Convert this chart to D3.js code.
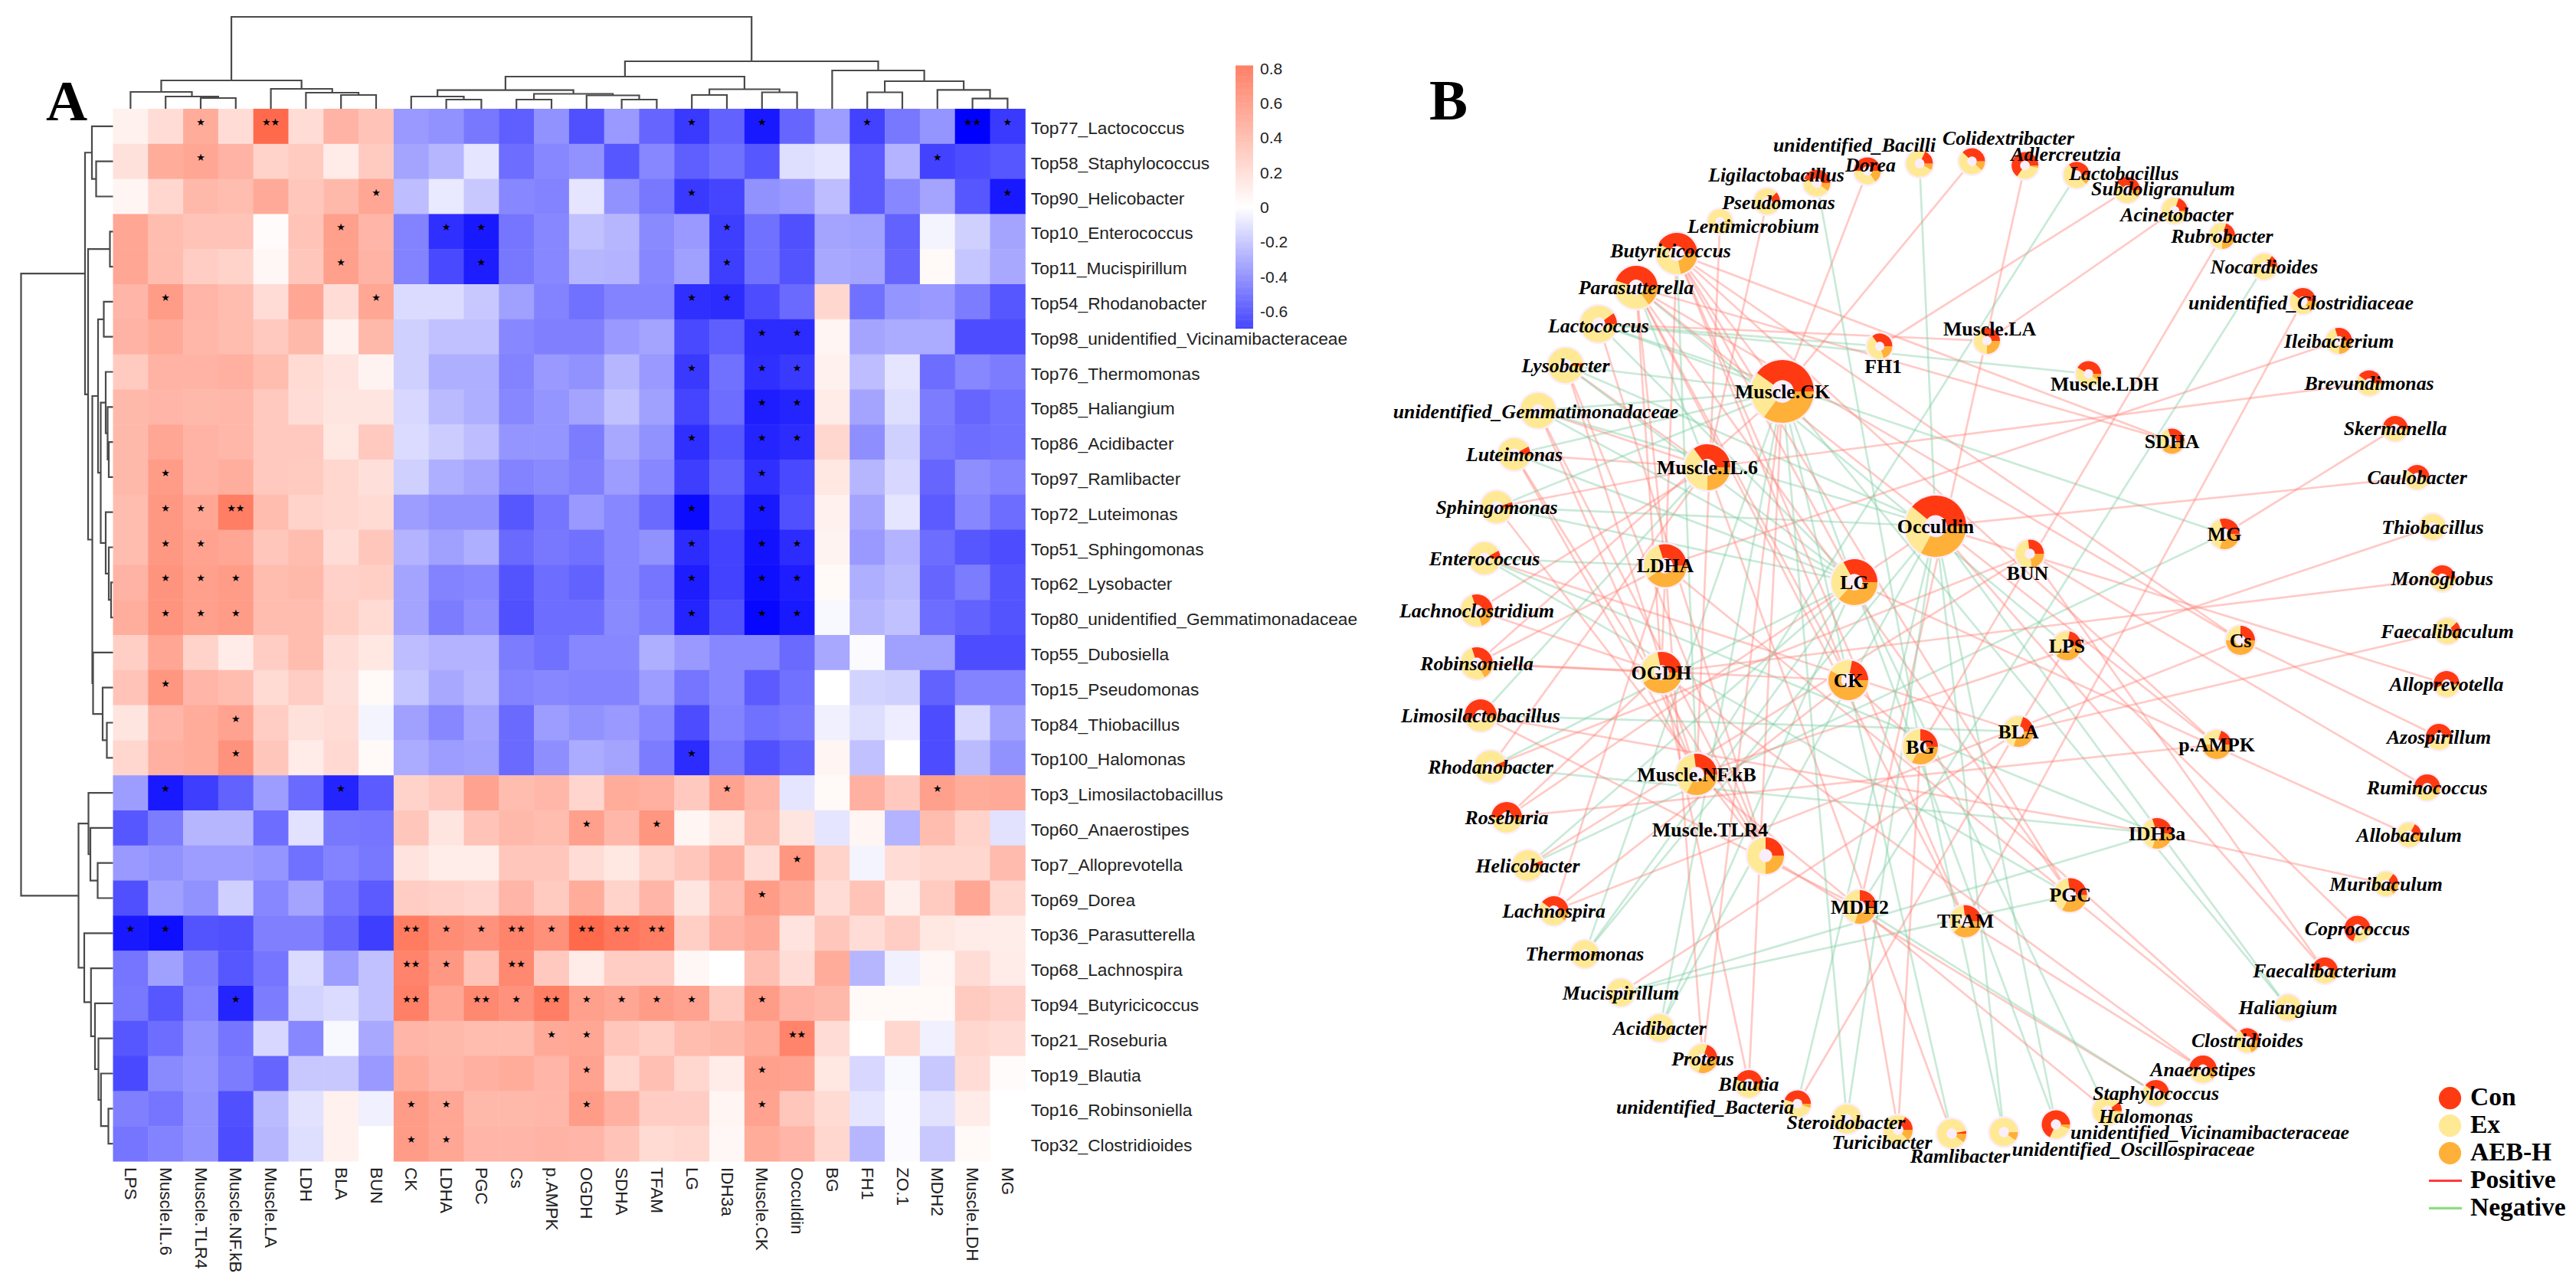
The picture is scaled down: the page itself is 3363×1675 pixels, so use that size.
<!DOCTYPE html>
<html><head><meta charset="utf-8">
<script src="https://cdn.jsdelivr.net/npm/d3@7"></script>
<style>html,body{margin:0;background:#fff}svg{display:block}</style>
</head><body><svg id="c" width="3363" height="1675" xmlns="http://www.w3.org/2000/svg"></svg>
<script>
// ---------- Panel A data ----------
const colLabels=["LPS","Muscle.IL.6","Muscle.TLR4","Muscle.NF.kB","Muscle.LA","LDH","BLA","BUN","CK","LDHA","PGC","Cs","p.AMPK","OGDH","SDHA","TFAM","LG","IDH3a","Muscle.CK","Occuldin","BG","FH1","ZO.1","MDH2","Muscle.LDH","MG"];
const rowLabels=["Top77_Lactococcus","Top58_Staphylococcus","Top90_Helicobacter","Top10_Enterococcus","Top11_Mucispirillum","Top54_Rhodanobacter","Top98_unidentified_Vicinamibacteraceae","Top76_Thermomonas","Top85_Haliangium","Top86_Acidibacter","Top97_Ramlibacter","Top72_Luteimonas","Top51_Sphingomonas","Top62_Lysobacter","Top80_unidentified_Gemmatimonadaceae","Top55_Dubosiella","Top15_Pseudomonas","Top84_Thiobacillus","Top100_Halomonas","Top3_Limosilactobacillus","Top60_Anaerostipes","Top7_Alloprevotella","Top69_Dorea","Top36_Parasutterella","Top68_Lachnospira","Top94_Butyricicoccus","Top21_Roseburia","Top19_Blautia","Top16_Robinsoniella","Top32_Clostridioides"];
const heatValues=[
[.07,.17,.42,.17,.75,.17,.38,.3,-.28,-.3,-.37,-.44,-.3,-.48,-.28,-.42,-.54,-.43,-.63,-.42,-.27,-.52,-.37,-.29,-.7,-.54],
[.15,.42,.45,.38,.22,.26,.1,.26,-.25,-.2,-.07,-.4,-.33,-.3,-.46,-.33,-.44,-.39,-.46,-.09,-.07,-.45,-.21,-.52,-.49,-.46],
[.05,.2,.35,.33,.43,.28,.35,.45,-.18,-.06,-.15,-.33,-.34,-.07,-.3,-.37,-.54,-.51,-.3,-.28,-.18,-.45,-.33,-.25,-.46,-.63],
[.45,.33,.3,.3,.02,.3,.48,.37,-.34,-.57,-.63,-.38,-.33,-.17,-.2,-.32,-.28,-.53,-.39,-.48,-.25,-.26,-.43,-.03,-.13,-.25],
[.45,.33,.25,.22,.04,.28,.48,.38,-.34,-.5,-.62,-.37,-.33,-.2,-.21,-.33,-.26,-.53,-.39,-.47,-.24,-.25,-.42,.03,-.16,-.24],
[.37,.5,.37,.33,.17,.45,.17,.45,-.1,-.1,-.15,-.26,-.34,-.39,-.34,-.34,-.57,-.58,-.49,-.41,.2,-.39,-.29,-.28,-.36,-.46],
[.38,.43,.36,.33,.27,.35,.07,.35,-.13,-.17,-.17,-.33,-.35,-.35,-.28,-.25,-.5,-.44,-.58,-.58,.05,-.25,-.23,-.23,-.49,-.49],
[.26,.38,.38,.4,.33,.18,.14,.06,-.13,-.22,-.22,-.34,-.28,-.3,-.2,-.28,-.54,-.39,-.57,-.54,.07,-.18,-.07,-.4,-.33,-.36],
[.35,.37,.35,.36,.27,.17,.13,.13,-.11,-.19,-.22,-.33,-.29,-.25,-.17,-.26,-.51,-.4,-.62,-.6,.1,-.25,-.09,-.36,-.42,-.39],
[.35,.45,.38,.36,.27,.27,.12,.27,-.1,-.14,-.18,-.29,-.29,-.36,-.24,-.3,-.57,-.46,-.6,-.58,.2,-.31,-.13,-.37,-.4,-.39],
[.35,.5,.38,.41,.27,.26,.2,.16,-.13,-.22,-.25,-.34,-.32,-.35,-.27,-.33,-.53,-.43,-.57,-.5,.12,-.2,-.11,-.42,-.31,-.34],
[.33,.52,.45,.65,.33,.22,.2,.18,-.27,-.3,-.3,-.46,-.38,-.28,-.33,-.41,-.67,-.48,-.63,-.48,.07,-.25,-.07,-.45,-.33,-.4],
[.33,.52,.47,.45,.28,.33,.17,.28,-.21,-.26,-.22,-.41,-.37,-.39,-.33,-.3,-.58,-.52,-.65,-.58,.06,-.28,-.21,-.4,-.46,-.49],
[.38,.54,.48,.5,.33,.35,.23,.24,-.25,-.34,-.33,-.47,-.4,-.43,-.33,-.38,-.62,-.52,-.66,-.62,.03,-.22,-.19,-.42,-.36,-.47],
[.41,.54,.48,.5,.33,.33,.24,.18,-.25,-.36,-.31,-.48,-.4,-.4,-.32,-.36,-.6,-.48,-.68,-.63,-.02,-.2,-.17,-.4,-.43,-.47],
[.24,.45,.22,.1,.25,.33,.17,.12,-.18,-.21,-.21,-.36,-.39,-.33,-.33,-.22,-.28,-.33,-.33,-.41,-.24,-.01,-.26,-.26,-.49,-.49],
[.3,.53,.37,.33,.18,.25,.16,.03,-.16,-.24,-.2,-.34,-.33,-.34,-.34,-.27,-.38,-.33,-.45,-.39,0,-.12,-.13,-.43,-.34,-.34],
[.13,.37,.42,.47,.25,.15,.17,-.03,-.26,-.33,-.25,-.41,-.27,-.3,-.28,-.33,-.49,-.34,-.39,-.37,-.04,-.09,-.05,-.49,-.11,-.26],
[.2,.4,.42,.55,.28,.1,.19,.03,-.23,-.27,-.26,-.41,-.31,-.23,-.25,-.36,-.58,-.37,-.48,-.43,.05,-.17,0,-.49,-.19,-.3],
[-.27,-.63,-.53,-.43,-.27,-.41,-.6,-.45,.22,.27,.47,.33,.36,.21,.42,.4,.27,.47,.36,-.07,.03,.4,.27,.48,.42,.43],
[-.46,-.36,-.2,-.2,-.4,-.08,-.37,-.38,.28,.13,.3,.35,.33,.48,.36,.53,.05,.12,.33,.13,-.07,.05,-.21,.33,.22,-.08],
[-.28,-.3,-.27,-.27,-.29,-.39,-.34,-.37,.14,.09,.09,.28,.28,.17,.12,.22,.28,.4,.17,.53,.22,-.03,.17,.2,.2,.34],
[-.48,-.26,-.3,-.13,-.33,-.25,-.38,-.45,.25,.23,.21,.37,.26,.42,.22,.37,.13,.32,.5,.42,.17,.3,.08,.26,.45,.2],
[-.63,-.66,-.47,-.48,-.35,-.35,-.42,-.53,.66,.58,.55,.62,.56,.75,.68,.65,.24,.38,.43,.14,.28,.17,.25,.12,.1,.09],
[-.38,-.26,-.36,-.46,-.38,-.1,-.27,-.17,.62,.52,.3,.6,.27,.1,.25,.25,.04,0,.32,.17,.42,-.2,-.04,.04,.17,.1],
[-.37,-.46,-.34,-.6,-.36,-.12,-.1,-.17,.64,.45,.6,.55,.65,.48,.45,.5,.47,.26,.5,.38,.35,.03,.03,.03,.26,.23],
[-.46,-.4,-.3,-.38,-.11,-.33,-.02,-.24,.37,.35,.33,.33,.43,.45,.28,.24,.33,.35,.42,.62,.17,0,.2,-.04,.2,.17],
[-.5,-.32,-.29,-.36,-.42,-.15,-.15,-.28,.42,.36,.4,.42,.37,.47,.2,.32,.2,.1,.48,.47,.12,-.11,-.02,-.15,.17,.02],
[-.35,-.38,-.3,-.48,-.19,-.08,.07,-.04,.5,.45,.35,.35,.36,.5,.4,.25,.25,.05,.47,.28,.18,-.07,-.01,-.08,.1,0],
[-.38,-.34,-.3,-.49,-.2,-.09,.07,0,.5,.45,.37,.37,.38,.37,.3,.18,.2,.04,.42,.37,.2,-.2,-.01,-.15,.03,0]];
// number of significance stars per cell, one string per row
const starRows=["0010200000 0000001010 010021","0010000000 0000000000 000100","0000000100 0000001000 000001","0000001001 1000000100 000000","0000001000 1000000100 000000","0100000100 0000001100 000000","0000000000 0000000011 000000","0000000000 0000001011 000000","0000000000 0000000011 000000","0000000000 0000001011 000000","0100000000 0000000010 000000","0112000000 0000001010 000000","0110000000 0000001011 000000","0111000000 0000001011 000000","0111000000 0000001011 000000","0000000000 0000000000 000000","0100000000 0000000000 000000","0001000000 0000000000 000000","0001000000 0000001000 000000","0100001000 0000000100 000100","0000000000 0001010000 000000","0000000000 0000000001 000000","0000000000 0000000010 000000","1100000021 1212220000 000000","0000000021 0200000000 000000","0001000020 2121111010 000000","0000000000 0011000002 000000","0000000000 0001000010 000000","0000000011 0001000010 000000","0000000011 0000000000 000000"].map(s=>s.replace(/ /g,""));
const legendTicks=[0.8,0.6,0.4,0.2,0,-0.2,-0.4,-0.6];
// dendrograms: [mergeHeight, childA, childB]; a number child is a 0-based leaf index
const colTree=[120,
 [37,[22,0,[16,1,[14,2,3]]],[26,4,[21,5,[18,6,7]]]],
 [62,[42,[24.3,[16,8,[12,9,10]],[19.5,[12,11,12],[17.5,13,[12,14,15]]]],[25.5,[18,16,17],[21.5,18,19]]],
     [50,20,[36,[21.5,21,22],[24.6,23,[13.4,24,25]]]]]];
const rowTree=[120,
 [36.5,[27.5,0,[22,1,2]],
  [32.5,[4,3,4],
   [27,[19.5,[12,5,6],
     [16,[9.5,7,[7,8,[5.5,9,10]]],[9.5,11,[5.5,12,[2.5,13,14]]]]],
    [26,15,[13.5,16,[8,17,18]]]]]],
 [45,[32,19,[29.5,20,[20,21,22]]],
  [37.5,23,[28.7,24,[23.5,25,[19,26,[15.7,27,[6,28,29]]]]]]]];

// ---------- Panel B data ----------
const nodeTable=[ // name, Con, Ex, AEB-H share
["unidentified_Bacilli",.18,.74,.08],["Dorea",.5,.35,.15],["Ligilactobacillus",.45,.45,.1],["Pseudomonas",.12,.86,.02],["Lentimicrobium",0,.98,.02],["Butyricicoccus",.42,.36,.22],["Parasutterella",.45,.4,.15],["Lactococcus",.1,.87,.03],["Lysobacter",.02,.96,.02],["unidentified_Gemmatimonadaceae",0,.99,.01],["Luteimonas",.08,.9,.02],["Sphingomonas",.05,.92,.03],["Enterococcus",.08,.92,0],["Lachnoclostridium",.3,.5,.2],["Robinsoniella",.3,.53,.17],["Limosilactobacillus",.55,.4,.05],["Rhodanobacter",.06,.93,.01],["Roseburia",.5,.45,.05],["Helicobacter",.05,.93,.02],["Lachnospira",.4,.48,.12],["Thermomonas",0,.97,.03],["Mucispirillum",0,.99,.01],["Acidibacter",0,.97,.03],["Proteus",.2,.5,.3],["Blautia",.45,.45,.1],["unidentified_Bacteria",.45,.5,.05],["Steroidobacter",0,1,0],["Turicibacter",.17,.7,.13],["Ramlibacter",.03,.87,.1],["unidentified_Oscillospiraceae",0,.9,.1],["unidentified_Vicinamibacteraceae",.68,.27,.05],["Halomonas",.1,.88,.02],["Staphylococcus",.4,.57,.03],["Anaerostipes",.5,.37,.13],["Clostridioides",.35,.45,.2],["Haliangium",0,1,0],["Faecalibacterium",.5,.38,.12],["Coprococcus",.7,.27,.03],["Muribaculum",.15,.7,.15],["Allobaculum",.17,.73,.1],["Ruminococcus",.5,.4,.1],["Azospirillum",.6,.39,.01],["Alloprevotella",.55,.43,.02],["Faecalibaculum",.12,.75,.13],["Monoglobus",.42,.55,.03],["Thiobacillus",0,1,0],["Caulobacter",.4,.58,.02],["Skermanella",.45,.53,.02],["Brevundimonas",.4,.58,.02],["Ileibacterium",.3,.45,.25],["unidentified_Clostridiaceae",.4,.45,.15],["Nocardioides",.15,.84,.01],["Rubrobacter",.2,.55,.25],["Acinetobacter",.2,.77,.03],["Subdoligranulum",.4,.5,.1],["Lactobacillus",.35,.53,.12],["Adlercreutzia",.65,.32,.03],["Colidextribacter",.38,.5,.12],
["FH1",.35,.45,.2],["Muscle.CK",.4,.25,.35],["Muscle.LA",.3,.45,.25],["Muscle.LDH",.42,.48,.1],["SDHA",.3,.32,.38],["Muscle.IL.6",.35,.4,.25],["LDHA",.3,.3,.4],["LG",.33,.3,.37],["OGDH",.28,.3,.42],["CK",.22,.2,.58],["BG",.25,.42,.33],["Muscle.NF.kB",.27,.4,.33],["Muscle.TLR4",.25,.5,.25],["MDH2",.25,.45,.3],["Occuldin",.39,.28,.33],["BUN",.27,.5,.23],["MG",.3,.4,.3],["LPS",.22,.4,.38],["Cs",.25,.25,.5],["BLA",.2,.5,.3],["p.AMPK",.2,.3,.5],["IDH3a",.3,.4,.3],["PGC",.27,.4,.33],["TFAM",.27,.35,.38]];
const factorNodes=["FH1","Muscle.CK","Muscle.LA","Muscle.LDH","SDHA","Muscle.IL.6","LDHA","LG","OGDH","CK","BG","Muscle.NF.kB","Muscle.TLR4","MDH2","Occuldin","BUN","MG","LPS","Cs","BLA","p.AMPK","IDH3a","PGC","TFAM"];
// edges for genera outside the heatmap (those inside it come from its stars)
const extraPositive=[["Lentimicrobium","Muscle.NF.kB"],["Colidextribacter","Muscle.CK"],["Adlercreutzia","MDH2"],["Subdoligranulum","FH1"],["Acinetobacter","Muscle.LA"],["Rubrobacter","BG"],["unidentified_Clostridiaceae","TFAM"],["Ileibacterium","LDHA"],["Brevundimonas","Muscle.IL.6"],["Skermanella","MG"],["Caulobacter","Occuldin"],["Monoglobus","OGDH"],["Faecalibaculum","BLA"],["Azospirillum","Cs"],["Ruminococcus","BUN"],["Allobaculum","LG"],["Muribaculum","IDH3a"],["Coprococcus","LPS"],["Faecalibacterium","Occuldin"],["Faecalibacterium","BUN"],["Lachnoclostridium","Muscle.IL.6"],["Lachnoclostridium","OGDH"],["Proteus","LDHA"],["Proteus","Muscle.CK"],["unidentified_Bacteria","LPS"],["Turicibacter","MDH2"],["Turicibacter","BG"]];
const extraNegative=[["unidentified_Bacilli","Occuldin"],["Ligilactobacillus","BG"],["Lactobacillus","Muscle.NF.kB"],["Nocardioides","MDH2"],["unidentified_Bacteria","Occuldin"],["Steroidobacter","Muscle.CK"],["Steroidobacter","Occuldin"],["unidentified_Oscillospiraceae","Occuldin"],["unidentified_Oscillospiraceae","BG"]];
const legendGroups=["Con","Ex","AEB-H"];
const legendEdges=["Positive","Negative"];

// ---------- Layout and style (separate from the values) ----------
const hm={left:147.5,top:142,cell:45.8};
const netLayout={ // layout x, layout y, radius, optional label x, label y
"unidentified_Bacilli":[2506,213.5,17.5,2421,189],"Dorea":[2438,223,17.5,2442,215],"Ligilactobacillus":[2372,239,17.5,2319,228],"Pseudomonas":[2307,263,17,2322,264],"Lentimicrobium":[2245.6,289,16,2289,295],"Butyricicoccus":[2189,331,27,2181,327],"Parasutterella":[2136,375,28],"Lactococcus":[2087,423,24,2087,425],"Lysobacter":[2044,477,23],"unidentified_Gemmatimonadaceae":[2008,536,23,2005,537],"Luteimonas":[1977,593,21],"Sphingomonas":[1954,662,21],"Enterococcus":[1938,729,21],"Lachnoclostridium":[1928,797,21],"Robinsoniella":[1928,866,21],"Limosilactobacillus":[1933,934,21],"Rhodanobacter":[1946,1001,21],"Roseburia":[1967,1067,20],"Helicobacter":[1994.6,1130,20],"Lachnospira":[2028.6,1189,19],"Thermomonas":[2069,1245.6,18],"Mucispirillum":[2116,1296,18],"Acidibacter":[2167,1342,18],"Proteus":[2223,1382,19],"Blautia":[2283,1415,18],"unidentified_Bacteria":[2346.6,1441,17.5,2226,1445],"Steroidobacter":[2411,1461,19,2410,1465],"Turicibacter":[2478,1475,19,2457,1491],"Ramlibacter":[2548,1480,19,2559,1509],"unidentified_Oscillospiraceae":[2616,1478,18.5,2785,1500],"unidentified_Vicinamibacteraceae":[2684,1468,18.5,2885,1478],"Halomonas":[2751,1450,19,2801.5,1457.5],"Staphylococcus":[2814.6,1427,17],"Anaerostipes":[2876,1396,18],"Clostridioides":[2934,1358.5,16],"Haliangium":[2987,1315.6,17],"Faecalibacterium":[3035,1267,17],"Coprococcus":[3077.6,1212.6,17],"Muribaculum":[3115,1154,16],"Allobaculum":[3145,1090,16],"Ruminococcus":[3168.7,1028,17],"Azospirillum":[3184,962,17],"Alloprevotella":[3194,893,17],"Faecalibaculum":[3195,824,17],"Monoglobus":[3188.5,755,17],"Thiobacillus":[3176,688,17],"Caulobacter":[3155.6,623,16],"Skermanella":[3127,559.5,16.5],"Brevundimonas":[3093,500,16.5],"Ileibacterium":[3053.6,445,17],"unidentified_Clostridiaceae":[3006.5,393,17,3004,395],"Nocardioides":[2956,348,17],"Rubrobacter":[2901,308,17],"Acinetobacter":[2839,275,17,2842,280],"Subdoligranulum":[2777,248,17,2824,246],"Lactobacillus":[2711,228.5,17,2773,226],"Adlercreutzia":[2643.6,216,17.5,2697,201],"Colidextribacter":[2574.5,210.5,17,2622,180],
"FH1":[2454,452,16.5,2458.5,478],"Muscle.CK":[2327,511,41],"Muscle.LA":[2594,445,17,2597.5,429],"Muscle.LDH":[2726.7,488,16.5,2747.6,501],"SDHA":[2835.5,576,16.5],"Muscle.IL.6":[2229,610,30],"LDHA":[2174,738.5,28],"LG":[2421,760,30],"OGDH":[2169,878,27],"CK":[2413,888,26],"BG":[2507,975,23],"Muscle.NF.kB":[2215,1011,27],"Muscle.TLR4":[2305,1117,24,2232.6,1083],"MDH2":[2428,1184,22],"Occuldin":[2527,687,40],"BUN":[2650,723,18.5,2647,748],"MG":[2904,697,20],"LPS":[2698.5,843,19],"Cs":[2925,836,19],"BLA":[2635,955,20],"p.AMPK":[2894,972,19],"IDH3a":[2816,1088,20],"PGC":[2702.7,1168.6,22],"TFAM":[2566,1202.7,21]};
const pieColor={con:"#ff3a12",ex:"#ffe995",aeb:"#ffb038"};

const svg=d3.select("#c");
svg.append("rect").attr("width",3363).attr("height",1675).attr("fill","#fff");

// ---------- Heatmap ----------
const xBand=d3.scaleBand().domain(colLabels).range([hm.left,hm.left+hm.cell*colLabels.length]);
const yBand=d3.scaleBand().domain(rowLabels).range([hm.top,hm.top+hm.cell*rowLabels.length]);
const cellColor=d3.scaleLinear().domain([-0.7,0,0.8]).range(["#0000ff","#ffffff","#ff6040"]).clamp(true);
const heatG=svg.append("g");
const cells=rowLabels.flatMap((r,i)=>colLabels.map((c,j)=>({r,c,v:heatValues[i][j],s:+starRows[i][j]})));
heatG.selectAll("rect").data(cells).join("rect")
 .attr("x",d=>xBand(d.c)).attr("y",d=>yBand(d.r))
 .attr("width",xBand.bandwidth()+.5).attr("height",yBand.bandwidth()+.5)
 .attr("fill",d=>cellColor(d.v));
heatG.selectAll("text").data(cells.filter(d=>d.s>0)).join("text")
 .attr("x",d=>xBand(d.c)+xBand.bandwidth()/2).attr("y",d=>yBand(d.r)+17.5)
 .attr("text-anchor","middle").attr("dominant-baseline","central")
 .attr("font-family","DejaVu Sans").attr("font-size",13).attr("fill","#000")
 .text(d=>"★".repeat(d.s));
svg.append("g").selectAll("text").data(rowLabels).join("text")
 .attr("x",hm.left+hm.cell*26+7.5).attr("y",d=>yBand(d)+yBand.bandwidth()/2+2)
 .attr("dominant-baseline","central").attr("font-family","Liberation Sans").attr("font-size",22.7).attr("fill","#222")
 .text(d=>d);
svg.append("g").selectAll("text").data(colLabels).join("text")
 .attr("transform",d=>`translate(${xBand(d)+xBand.bandwidth()/2},${hm.top+hm.cell*30+8}) rotate(90)`)
 .attr("dominant-baseline","central").attr("font-family","Liberation Sans").attr("font-size",22.5).attr("fill","#222")
 .text(d=>d);

// dendrograms
function layoutTree(t,pos){
  if(typeof t==="number")return{p:pos(t),h:0,leaf:true};
  const a=layoutTree(t[1],pos),b=layoutTree(t[2],pos);
  return{p:(a.p+b.p)/2,h:t[0],a,b};
}
function segs(n,out=[]){ if(n.leaf)return out; out.push(n); segs(n.a,out); segs(n.b,out); return out;}
const treeStroke={fill:"none",stroke:"#4a4a4a","stroke-width":2.2};
const colH=d3.scaleLinear().domain([0,120]).range([hm.top,22]);
const colRoot=layoutTree(colTree,i=>xBand(colLabels[i])+xBand.bandwidth()/2);
const rowH=d3.scaleLinear().domain([0,120]).range([hm.left,27.5]);
const rowRoot=layoutTree(rowTree,i=>yBand(rowLabels[i])+yBand.bandwidth()/2);
const dCol=n=>`M${n.a.p},${colH(n.a.h)}V${colH(n.h)}H${n.b.p}V${colH(n.b.h)}`;
const dRow=n=>`M${rowH(n.a.h)},${n.a.p}H${rowH(n.h)}V${n.b.p}H${rowH(n.b.h)}`;
const gd=svg.append("g").attr("fill",treeStroke.fill).attr("stroke",treeStroke.stroke).attr("stroke-width",treeStroke["stroke-width"]);
gd.selectAll("path.c").data(segs(colRoot)).join("path").attr("class","c").attr("d",dCol);
gd.selectAll("path.r").data(segs(rowRoot)).join("path").attr("class","r").attr("d",dRow);

// colour legend
const legY=d3.scaleLinear().domain([0,0.8]).range([270.5,89.3]);
const legColor=d3.scaleLinear().domain([-0.7,0,0.814]).range(["#4545ff","#ffffff","#ff8066"]);
const legSteps=d3.range(-0.698,0.814,0.005);
svg.append("g").selectAll("rect").data(legSteps).join("rect")
 .attr("x",1613).attr("width",23).attr("y",d=>legY(d+0.005)).attr("height",d=>legY(d)-legY(d+0.005)+.6).attr("fill",d=>legColor(d));
svg.append("g").selectAll("text").data(legendTicks).join("text")
 .attr("x",1645).attr("y",d=>legY(d)).attr("dominant-baseline","central")
 .attr("font-family","Liberation Sans").attr("font-size",21).attr("fill","#222").text(d=>d);

// panel letters
svg.append("text").attr("x",60).attr("y",157).attr("font-family","Liberation Serif").attr("font-weight","bold").attr("font-size",75).text("A");
svg.append("text").attr("x",1866).attr("y",156).attr("font-family","Liberation Serif").attr("font-weight","bold").attr("font-size",75).text("B");

// ---------- Network ----------
const netX=d3.scaleLinear().domain([1880,3280]).range([1880,3280]);
const netY=d3.scaleLinear().domain([140,1540]).range([140,1540]);
const L=n=>netLayout[n];
const edges=[];
rowLabels.forEach((r,i)=>{
  const name=r.replace(/^Top\d+_/,"");
  if(!netLayout[name])return;
  colLabels.forEach((c,j)=>{
    if(+starRows[i][j]>0&&netLayout[c])edges.push({a:name,b:c,pos:heatValues[i][j]>0});
  });
});
extraPositive.forEach(e=>edges.push({a:e[0],b:e[1],pos:true}));
extraNegative.forEach(e=>edges.push({a:e[0],b:e[1],pos:false}));
svg.append("g").attr("stroke-width",2.7).selectAll("line").data(edges).join("line")
 .attr("x1",d=>netX(L(d.a)[0])).attr("y1",d=>netY(L(d.a)[1]))
 .attr("x2",d=>netX(L(d.b)[0])).attr("y2",d=>netY(L(d.b)[1]))
 .attr("stroke",d=>d.pos?"#ff8078":"#7fcda2").attr("stroke-opacity",.42);

const pie=d3.pie().sort(null).startAngle(Math.PI/2).endAngle(Math.PI/2+2*Math.PI);
const nodeG=svg.append("g").selectAll("g").data(nodeTable).join("g")
 .attr("transform",d=>`translate(${netX(L(d[0])[0])},${netY(L(d[0])[1])})`);
nodeG.append("circle").attr("r",d=>L(d[0])[2]+2.5).attr("fill","#fbeefb");
nodeG.each(function(d){
  const R=L(d[0])[2];
  const arc=d3.arc().innerRadius(R*.36).outerRadius(R);
  const parts=[{v:d[3],c:pieColor.aeb},{v:d[2],c:pieColor.ex},{v:d[1],c:pieColor.con}];
  d3.select(this).selectAll("path").data(pie.value(p=>p.v)(parts)).join("path").attr("d",arc).attr("fill",p=>p.data.c);
});
svg.append("g").selectAll("text").data(nodeTable).join("text")
 .attr("x",d=>netX(L(d[0])[3]??L(d[0])[0])).attr("y",d=>netY(L(d[0])[4]??L(d[0])[1]))
 .attr("text-anchor","middle").attr("dominant-baseline","central")
 .attr("font-family","Liberation Serif").attr("font-weight","bold").attr("font-size",25.8).attr("fill","#000")
 .attr("font-style",d=>factorNodes.includes(d[0])?"normal":"italic")
 .text(d=>d[0]);

// network legend
const legendRow=d3.scalePoint().domain([...legendGroups,...legendEdges]).range([1433.7,1577.4]);
const groupFill={Con:pieColor.con,Ex:pieColor.ex,"AEB-H":pieColor.aeb};
svg.append("g").selectAll("ellipse").data(legendGroups).join("ellipse")
 .attr("cx",3198.5).attr("cy",d=>legendRow(d)).attr("rx",14.6).attr("ry",14.6).attr("fill",d=>groupFill[d]);
svg.append("g").selectAll("line").data(legendEdges).join("line")
 .attr("x1",3171).attr("x2",3214).attr("y1",d=>legendRow(d)).attr("y2",d=>legendRow(d))
 .attr("stroke",d=>d==="Positive"?"#ff3a3a":"#8fdc82").attr("stroke-width",3.2);
svg.append("g").selectAll("text").data([...legendGroups,...legendEdges]).join("text")
 .attr("x",3225).attr("y",d=>legendRow(d)-2).attr("dominant-baseline","central")
 .attr("font-family","Liberation Serif").attr("font-weight","bold").attr("font-size",33.5).attr("fill","#000").text(d=>d);
</script></body></html>
